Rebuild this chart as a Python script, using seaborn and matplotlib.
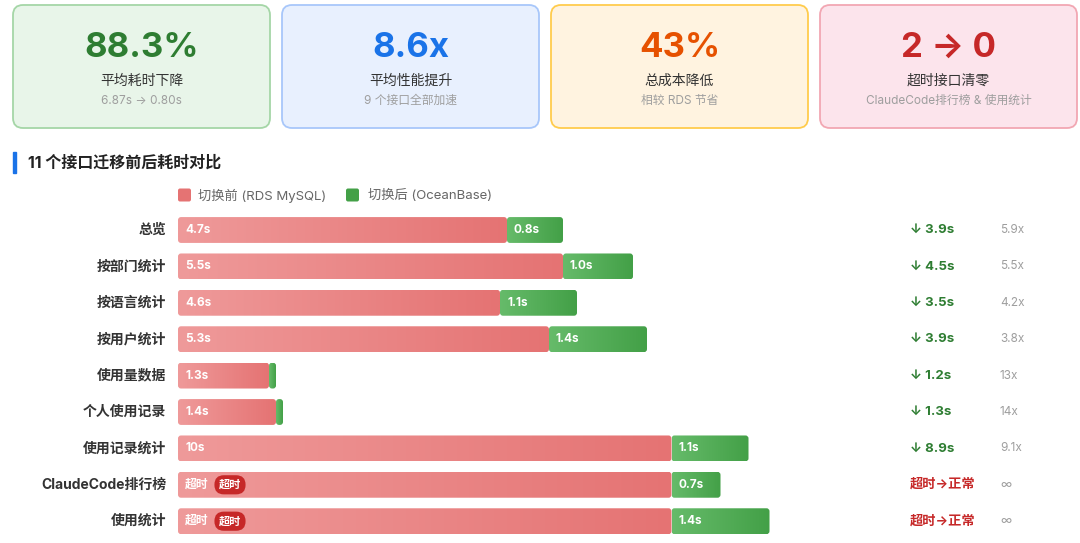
import numpy as np
import pandas as pd
import seaborn as sns
import matplotlib.pyplot as plt
from matplotlib.patches import FancyBboxPatch, Rectangle
from matplotlib.colors import LinearSegmentedColormap

# ---- data ----
apis = ["总览", "按部门统计", "按语言统计", "按用户统计", "使用量数据",
        "个人使用记录", "使用记录统计", "ClaudeCode排行榜", "使用统计"]
before_s = [4.7, 5.5, 4.6, 5.3, 1.3, 1.4, 10.0, None, None]  # None = 超时
after_s = [0.8, 1.0, 1.1, 1.4, 0.1, 0.1, 1.1, 0.7, 1.4]
CAP_S = 7.05  # bars longer than this (or timed out) are drawn at this length

kpi_values = ["88.3%", "8.6x", "43%", "2 → 0"]
kpi_titles = ["平均耗时下降", "平均性能提升", "总成本降低", "超时接口清零"]
kpi_notes = ["6.87s → 0.80s", "9 个接口全部加速", "相较 RDS 节省", "ClaudeCode排行榜 & 使用统计"]
kpi_colors = ["#2e7d32", "#1a73e8", "#e65100", "#c62828"]
kpi_bg = ["#e8f5e9", "#e8f0fe", "#fff3e0", "#fce4ec"]
kpi_edge = ["#a5d6a7", "#a8c7fa", "#ffcc4d", "#f2a7b3"]

title = "11 个接口迁移前后耗时对比"
legend_labels = ["切换前 (RDS MySQL)", "切换后 (OceanBase)"]

RED0, RED1 = "#ef9a9a", "#e57373"
GRN0, GRN1 = "#66bb6a", "#43a047"

sns.set_style("white")
plt.rcParams["font.family"] = ["Inter", "Noto Sans CJK SC", "DejaVu Sans"]

W, H = 1080, 543
PX = 70.0  # pixels per second
fig = plt.figure(figsize=(W / 100, H / 100), dpi=100)

# background layer in pixel coords
bg = fig.add_axes([0, 0, 1, 1])
bg.set_xlim(0, W)
bg.set_ylim(H, 0)
bg.axis("off")

# KPI cards
for k in range(4):
    x0 = 13 + k * 269
    bg.add_patch(FancyBboxPatch((x0, 5), 257, 123, boxstyle="round,pad=0,rounding_size=10",
                                fc=kpi_bg[k], ec=kpi_edge[k], lw=1.3))
    cx = x0 + 128.5
    bg.text(cx, 48, kpi_values[k], ha="center", va="center", fontsize=25,
            fontweight="bold", color=kpi_colors[k])
    bg.text(cx, 81, kpi_titles[k], ha="center", va="center", fontsize=10, color="#333333")
    bg.text(cx, 101, kpi_notes[k], ha="center", va="center", fontsize=8.5, color="#9e9e9e")

# section title
bg.add_patch(Rectangle((13, 152), 3, 21, color="#1a73e8"))
bg.text(28, 163, title, ha="left", va="center", fontsize=11.5, fontweight="bold", color="#222222")

# legend
for x_sq, x_txt, col, lab in [(178, 198, RED1, legend_labels[0]), (346, 368, GRN1, legend_labels[1])]:
    bg.add_patch(FancyBboxPatch((x_sq, 188.5), 13, 13, boxstyle="round,pad=0,rounding_size=2",
                                fc=col, ec="none"))
    bg.text(x_txt, 195.5, lab, ha="left", va="center", fontsize=9.5, color="#666666")

# ---- bars ----
df = pd.DataFrame({
    "接口": apis,
    "before": [CAP_S if b is None else min(b, CAP_S) for b in before_s],
    "after": after_s,
})
df["total"] = df["before"] + df["after"]

row_h = 36.4
ax = fig.add_axes([178 / W, (H - (230 - row_h / 2 + 9 * row_h)) / H, (W - 178) / W, 9 * row_h / H])
sns.barplot(data=df, y="接口", x="total", color=GRN1, width=0.71, ax=ax, orient="h")
sns.barplot(data=df, y="接口", x="before", color=RED1, width=0.71, ax=ax, orient="h")

n = len(apis)
grn_patches = ax.patches[:n]
red_patches = ax.patches[n:2 * n]
for p in ax.patches:
    p.set_visible(False)

grad = np.linspace(0, 1, 256).reshape(1, -1)
r_x = 3 / PX
r_y = 3 / row_h


def grad_bar(x0, x1, y0, h, c0, c1):
    cmap = LinearSegmentedColormap.from_list("g", [c0, c1])
    box = FancyBboxPatch((x0, y0), x1 - x0, h, boxstyle=f"round,pad=0,rounding_size={r_x}",
                         mutation_aspect=r_y / r_x, fc="none", ec="none")
    ax.add_patch(box)
    im = ax.imshow(grad, cmap=cmap, extent=(x0, x1, y0 + h, y0), aspect="auto",
                   interpolation="bilinear", zorder=2)
    im.set_clip_path(box)


for i in range(n):
    rp, gp = red_patches[i], grn_patches[i]
    y0, h = rp.get_y(), rp.get_height()
    xb = rp.get_width()
    xt = gp.get_width()
    grad_bar(0, xb, y0, h, RED0, RED1)
    grad_bar(xb, xt, y0, h, GRN0, GRN1)

    lab_kw = dict(textcoords="offset pixels", va="center", ha="left", color="white",
                  fontweight="bold", fontsize=8.5, zorder=5)
    b, a = before_s[i], after_s[i]
    if b is None:
        ax.annotate("超时", xy=(0, i), xytext=(7, 0), **lab_kw)
        ax.annotate("超时", xy=(0, i), xytext=(52, 0), textcoords="offset pixels",
                    va="center", ha="center", color="white", fontweight="bold", fontsize=8, zorder=5,
                    bbox=dict(boxstyle="round,pad=0.4,rounding_size=0.85", fc="#c62828", ec="none"))
    else:
        ax.annotate(f"{b:g}s", xy=(0, i), xytext=(7, 0), **lab_kw)
    if a >= 0.3:
        ax.annotate(f"{a:.1f}s", xy=(xb, i), xytext=(7, 0), **lab_kw)

    # category label
    ax.annotate(apis[i], xy=(0, i), xycoords=ax.get_yaxis_transform(), xytext=(-12, 0),
                textcoords="offset pixels", ha="right", va="center", fontsize=10,
                fontweight="bold", color="#333333")

    # saving and speed-up columns
    if b is None:
        diff_txt, diff_col, ratio_txt = "超时→正常", "#c62828", "∞"
    else:
        diff_txt, diff_col = f"↓ {b - a:.1f}s", "#2e7d32"
        ratio_txt = f"{b / a:.1f}".rstrip("0").rstrip(".") + "x"
    ax.annotate(diff_txt, xy=(0, i), xycoords=ax.get_yaxis_transform(), xytext=(910 - 178, 0),
                textcoords="offset pixels", ha="left", va="center", fontsize=9.5,
                fontweight="bold", color=diff_col)
    ax.annotate(ratio_txt, xy=(0, i), xycoords=ax.get_yaxis_transform(), xytext=(1000 - 178, 0),
                textcoords="offset pixels", ha="left", va="center", fontsize=8.5, color="#9e9e9e")

ax.set_xlim(0, (W - 178) / PX)
ax.set_ylim(n - 0.5, -0.5)
ax.axis("off")

fig.savefig("out.png", dpi=100, facecolor="white")
